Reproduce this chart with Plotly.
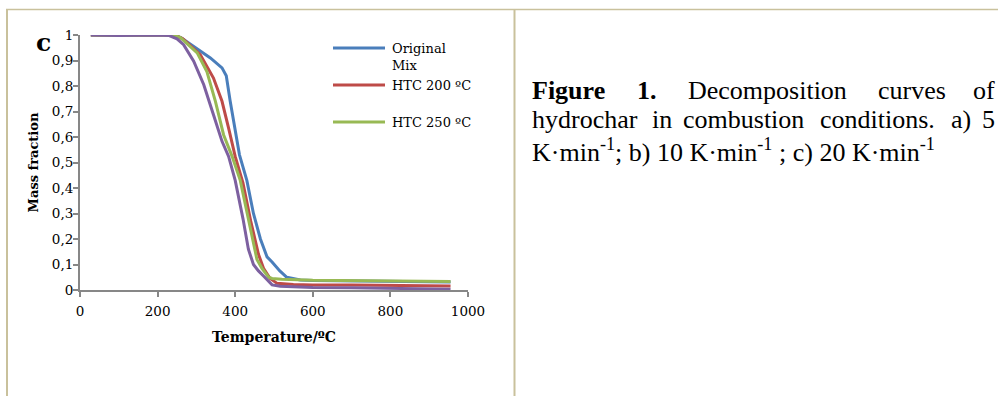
import plotly.graph_objects as go

# ---------------- data ----------------
series_names = ["Original Mix", "HTC 200 ºC", "HTC 250 ºC", "HTC (4th)"]
series_colors = ["#4A7EBB", "#BE4B48", "#98B954", "#7D60A0"]

t_original = [28, 100, 150, 200, 240, 260, 293, 336, 366, 377, 387, 400, 411, 430, 447, 465, 482, 495, 515, 533, 568, 600, 700, 800, 900, 955]
m_original = [1.0, 0.998, 0.999, 1.0, 1.0, 0.99, 0.956, 0.91, 0.871, 0.84, 0.741, 0.635, 0.53, 0.43, 0.30, 0.20, 0.13, 0.11, 0.075, 0.05, 0.039, 0.037, 0.036, 0.035, 0.032, 0.031]

t_htc200 = [28, 100, 200, 245, 265, 310, 344, 366, 383, 400, 420, 440, 460, 473, 490, 508, 550, 600, 700, 800, 900, 955]
m_htc200 = [1.0, 0.998, 1.0, 1.0, 0.985, 0.923, 0.831, 0.74, 0.635, 0.524, 0.42, 0.27, 0.14, 0.085, 0.045, 0.026, 0.022, 0.02, 0.02, 0.018, 0.016, 0.016]

t_htc250 = [28, 100, 200, 240, 259, 302, 327, 349, 370, 392, 413, 435, 456, 469, 486, 495, 520, 600, 700, 800, 900, 955]
m_htc250 = [1.0, 0.998, 1.0, 1.0, 0.99, 0.93, 0.857, 0.74, 0.609, 0.524, 0.43, 0.27, 0.12, 0.085, 0.05, 0.045, 0.042, 0.038, 0.037, 0.036, 0.033, 0.033]

t_fourth = [28, 100, 200, 230, 250, 267, 293, 319, 344, 366, 383, 400, 420, 434, 447, 460, 473, 485, 495, 516, 550, 600, 700, 800, 900, 955]
m_fourth = [1.0, 0.998, 1.0, 0.998, 0.985, 0.962, 0.897, 0.805, 0.687, 0.583, 0.524, 0.43, 0.28, 0.16, 0.10, 0.075, 0.055, 0.035, 0.02, 0.015, 0.012, 0.01, 0.009, 0.006, 0.003, 0.003]

x_tick_values = [0, 200, 400, 600, 800, 1000]
x_tick_labels = ["0", "200", "400", "600", "800", "1000"]
y_tick_values = [0, 0.1, 0.2, 0.3, 0.4, 0.5, 0.6, 0.7, 0.8, 0.9, 1.0]
y_tick_labels = ["0", "0,1", "0,2", "0,3", "0,4", "0,5", "0,6", "0,7", "0,8", "0,9", "1"]

# ---------------- layout helpers ----------------
W, H = 998, 396
PL, PR, PT, PB = 80, 468, 35, 290  # plot area in px


def px(xp):
    return (xp - PL) / (PR - PL)


def py(yp):
    return (PB - yp) / (PB - PT)


AXIS_COLOR = "#878787"
BORDER = "#C9C19C"
SERIF = "DejaVu Serif"
TIMES = "Liberation Serif"

fig = go.Figure()
all_t = [t_original, t_htc200, t_htc250, t_fourth]
all_m = [m_original, m_htc200, m_htc250, m_fourth]
for name, color, t, m in zip(series_names, series_colors, all_t, all_m):
    fig.add_trace(go.Scatter(x=t, y=m, mode="lines", name=name,
                             line=dict(color=color, width=3), showlegend=False))

shapes = []
annotations = []

# page / table borders
shapes.append(dict(type="line", xref="paper", yref="paper", x0=px(6), x1=px(998), y0=py(9.5), y1=py(9.5),
                   line=dict(color=BORDER, width=1.6)))
shapes.append(dict(type="line", xref="paper", yref="paper", x0=px(7), x1=px(7), y0=py(9), y1=py(400),
                   line=dict(color=BORDER, width=2)))
shapes.append(dict(type="line", xref="paper", yref="paper", x0=px(514.5), x1=px(514.5), y0=py(9), y1=py(400),
                   line=dict(color=BORDER, width=2)))

# manual legend (first three series)
legend_rows = [48, 85, 122]
legend_texts = ["Original<br>Mix", "HTC 200 ºC", "HTC 250 ºC"]
for yrow, txt, col in zip(legend_rows, legend_texts, series_colors[:3]):
    shapes.append(dict(type="line", xref="paper", yref="paper", x0=px(333), x1=px(385), y0=py(yrow), y1=py(yrow),
                       line=dict(color=col, width=3)))
    annotations.append(dict(xref="paper", yref="paper", x=px(390), y=py(yrow - 9), xanchor="left", yanchor="top",
                            text=txt, showarrow=False, align="left",
                            font=dict(family=SERIF, size=13, color="black")))

# panel letter
annotations.append(dict(xref="paper", yref="paper", x=px(43), y=py(42), xanchor="center", yanchor="middle",
                        text="<b>c</b>", showarrow=False, font=dict(family=SERIF, size=25, color="black")))

# caption (justified text: words placed individually)
cap_font = dict(family=TIMES, size=26, color="black")
line1 = [("<b>Figure</b>", 530), ("<b>1.</b>", 635), ("Decomposition", 686), ("curves", 876)]
line2 = [("hydrochar", 530), ("in", 650), ("combustion", 681), ("conditions.", 818), ("a)", 949)]
for words, yl in ((line1, 90), (line2, 119)):
    for w, xl in words:
        annotations.append(dict(xref="paper", yref="paper", x=px(xl), y=py(yl), xanchor="left", yanchor="middle",
                                text=w, showarrow=False, font=cap_font))
annotations.append(dict(xref="paper", yref="paper", x=px(997), y=py(90), xanchor="right", yanchor="middle",
                        text="of", showarrow=False, font=cap_font))
annotations.append(dict(xref="paper", yref="paper", x=px(997), y=py(119), xanchor="right", yanchor="middle",
                        text="5", showarrow=False, font=cap_font))
annotations.append(dict(xref="paper", yref="paper", x=px(530), y=py(150), xanchor="left", yanchor="middle",
                        text="K·min<sup>-1</sup>; b) 10 K·min<sup>-1</sup> ; c) 20 K·min<sup>-1</sup>",
                        showarrow=False, font=cap_font))

fig.update_layout(
    width=W, height=H,
    margin=dict(l=PL, r=W - PR, t=PT, b=H - PB),
    paper_bgcolor="white", plot_bgcolor="white",
    shapes=shapes, annotations=annotations,
    xaxis=dict(range=[0, 1000], tickvals=x_tick_values, ticktext=x_tick_labels,
               showline=True, linecolor=AXIS_COLOR, linewidth=2, ticks="outside", ticklen=5,
               tickcolor=AXIS_COLOR, tickwidth=2, showgrid=False, zeroline=False, ticklabelstandoff=3,
               tickfont=dict(family=SERIF, size=13.5, color="black"),
               title=dict(text="<b>Temperature/ºC</b>", font=dict(family=SERIF, size=14, color="black"), standoff=14)),
    yaxis=dict(range=[0, 1], tickvals=y_tick_values, ticktext=y_tick_labels,
               showline=True, linecolor=AXIS_COLOR, linewidth=2, ticks="outside", ticklen=5,
               tickcolor=AXIS_COLOR, tickwidth=2, showgrid=False, zeroline=False, ticklabelstandoff=-3,
               tickfont=dict(family=SERIF, size=13.5, color="black"),
               title=dict(text="<b>Mass fraction</b>", font=dict(family=SERIF, size=13, color="black"), standoff=10)),
)

fig.write_html("out.html", config={"displayModeBar": False},
               post_script="document.body.style.margin='0';document.body.style.overflow='hidden';")
